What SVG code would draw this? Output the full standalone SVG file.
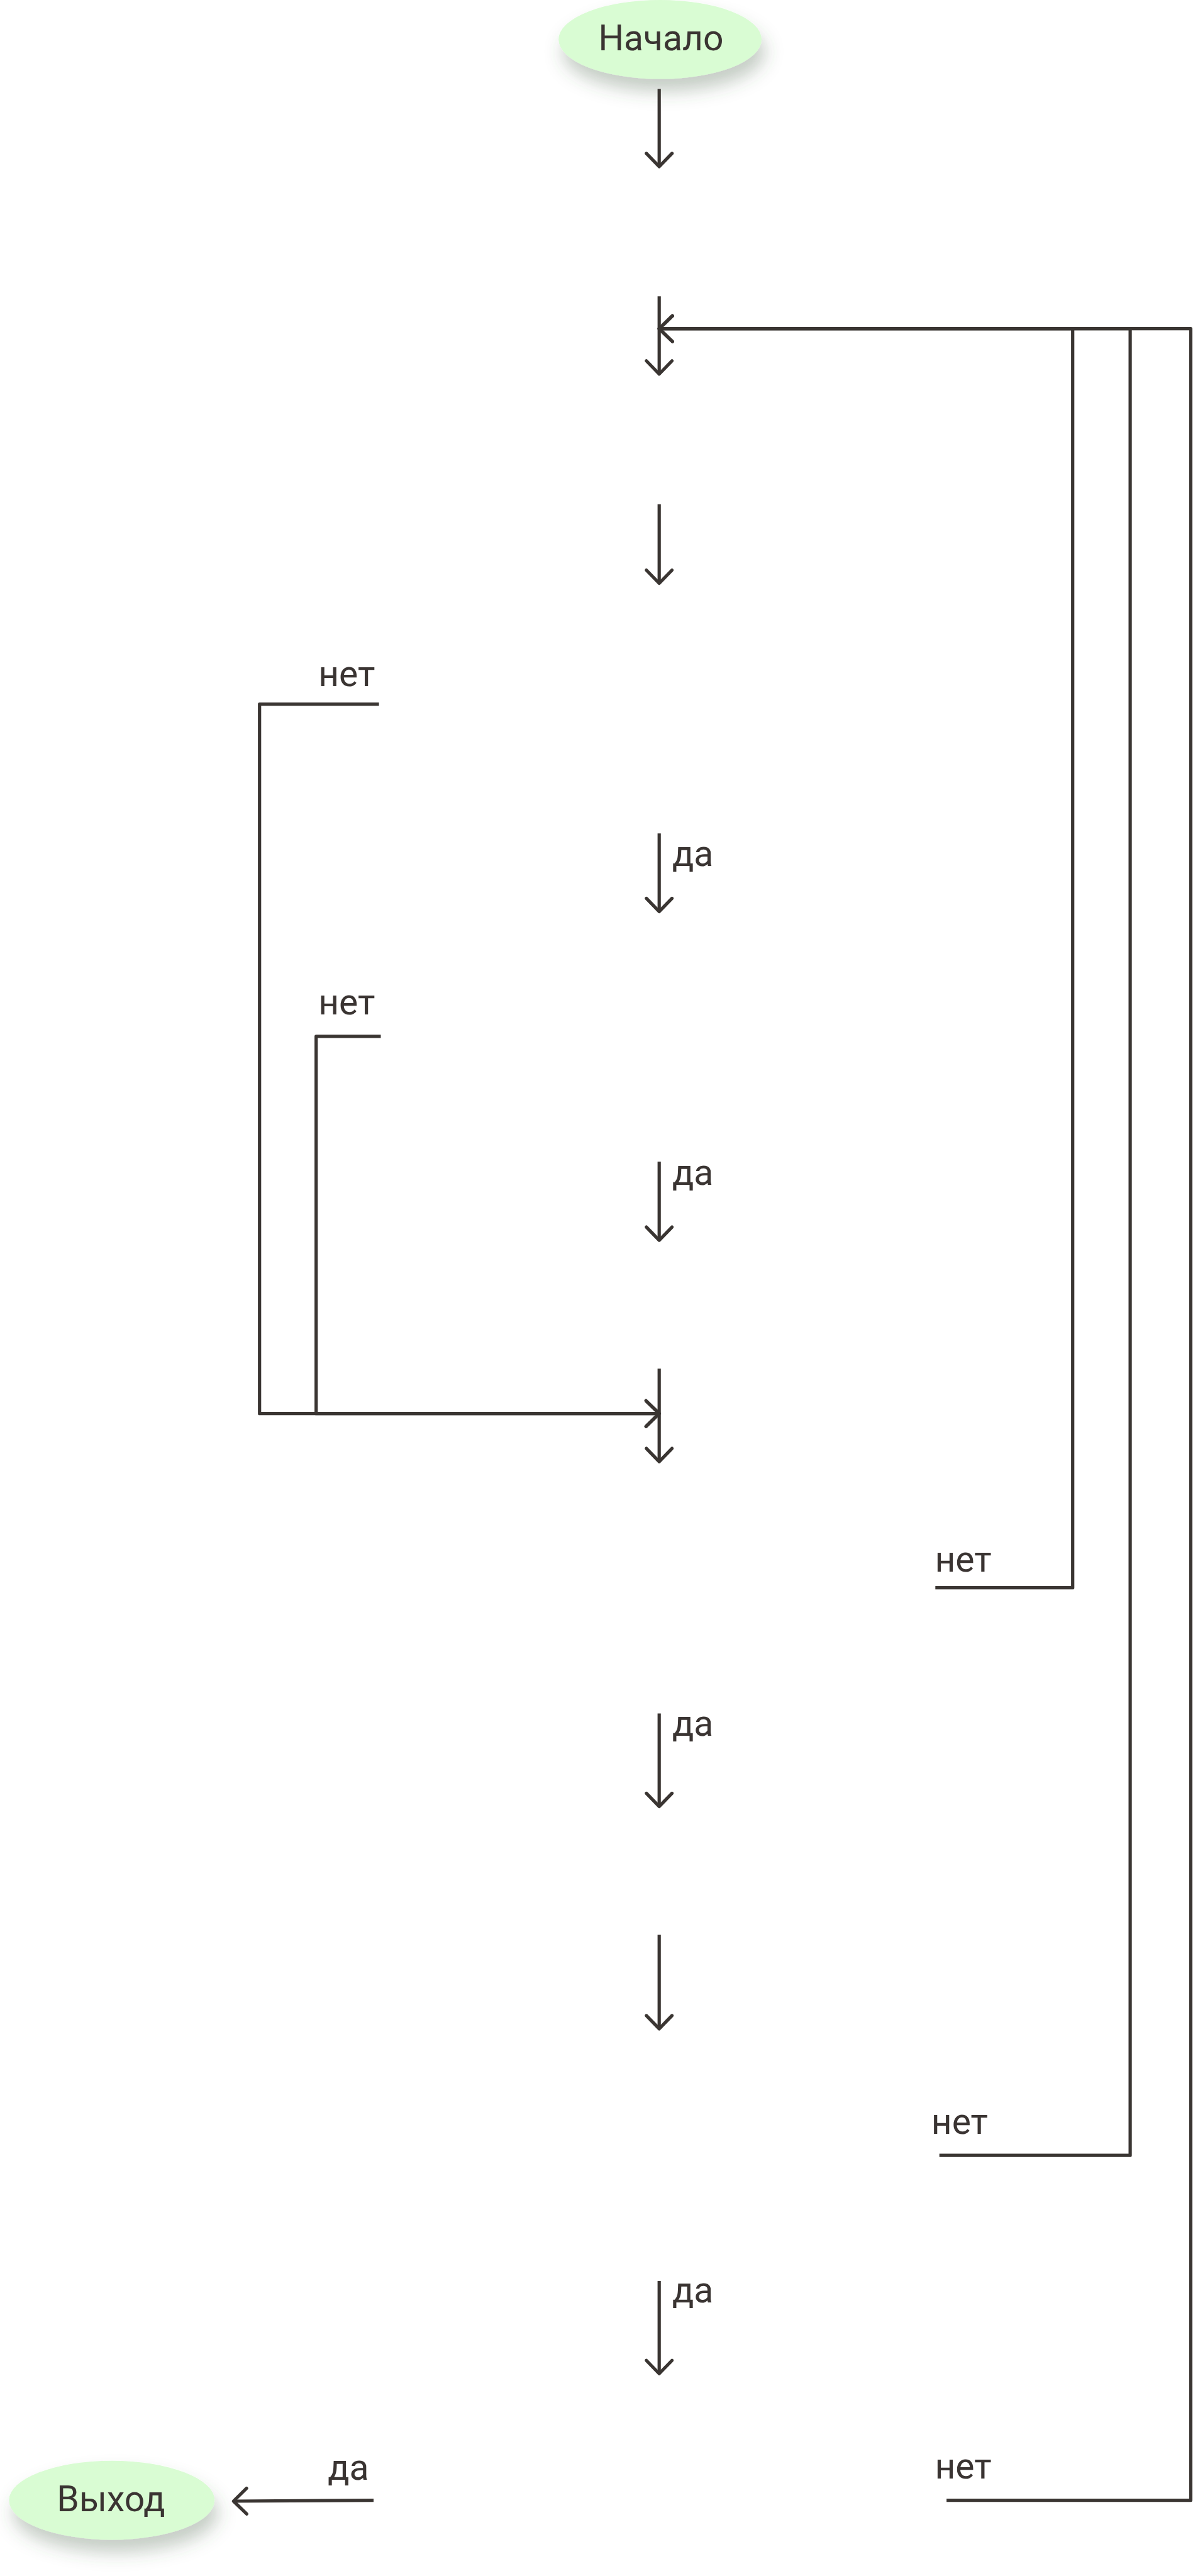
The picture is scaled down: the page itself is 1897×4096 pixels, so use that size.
<svg xmlns="http://www.w3.org/2000/svg" width="1897" height="4096" viewBox="0 0 1897 4096">
<style>
.term{fill:#d9fcd3;filter:url(#sh)}
.t{font-family:Roboto,"Liberation Sans",sans-serif;font-size:57px;fill:#3a3432}
.c{fill:none;stroke:#3a3532;stroke-width:5.2;stroke-linejoin:round}
.a{marker-end:url(#ah)}
</style>
<defs>
<filter id="sh" x="-30%" y="-40%" width="160%" height="200%">
<feDropShadow dx="6" dy="20" stdDeviation="14" flood-color="#3c5a3c" flood-opacity="0.3"/>
</filter>
<marker id="ah" markerUnits="userSpaceOnUse" viewBox="-26 -24 30 48" refX="0" refY="0" markerWidth="30" markerHeight="48" orient="auto" overflow="visible">
<path d="M-21,-20.4 L0,0 L-21,20.4" fill="none" stroke="#3a3532" stroke-width="5.2" stroke-linecap="round" stroke-linejoin="round"/>
</marker>
</defs>
<rect width="1897" height="4096" fill="#ffffff"/>
<g id="start">
<ellipse class="term" cx="1049.6" cy="62.8" rx="161.4" ry="62.8"/>
<text class="t" x="1051" y="80" text-anchor="middle">Начало</text>
</g>
<g id="exit">
<ellipse class="term" cx="177.8" cy="3975.6" rx="163.5" ry="62.8"/>
<text class="t" x="176.4" y="3993.4" text-anchor="middle">Выход</text>
</g>
<g id="connectors">
<path class="c a" d="M1048.2,141.4 V264.9"/>
<path class="c a" d="M1048.2,471.2 V594.8"/>
<path class="c a" d="M1048.2,801.8 V927.5"/>
<path class="c a" d="M1048.2,1325.2 V1449.4"/>
<path class="c a" d="M1048.2,1847.1 V1972.1"/>
<path class="c a" d="M1048.2,2176.3 V2324.1"/>
<path class="c a" d="M1048.2,2724.6 V2872.4"/>
<path class="c a" d="M1048.2,3076.6 V3225.9"/>
<path class="c a" d="M1048.2,3627.1 V3774.2"/>
<path class="c a" d="M602.6,1119.6 H412.7 V2247.7 H1048.2"/>
<path class="c a" d="M605.5,1647.9 H502.7 V2247.7 H1048.2"/>
<path class="c a" d="M1487.3,2524.7 H1705.7 V522.6 H1048.2"/>
<path class="c a" d="M1493.7,3427.2 H1797.1 V522.6 H1048.2"/>
<path class="c a" d="M1505.1,3975.6 H1893.5 V522.6 H1048.2"/>
<path class="c a" d="M594,3975.6 L371.3,3977"/>
<text class="t" x="506.2" y="1091">нет</text>
<text class="t" x="506.2" y="1613">нет</text>
<text class="t" x="1486.5" y="2499">нет</text>
<text class="t" x="1480.8" y="3393">нет</text>
<text class="t" x="1486.5" y="3941">нет</text>
<text class="t" x="1068.9" y="1376.6">да</text>
<text class="t" x="1068.9" y="1884">да</text>
<text class="t" x="1068.9" y="2759.6">да</text>
<text class="t" x="1068.9" y="3661.4">да</text>
<text class="t" x="521.2" y="3942.7">да</text>
</g>
</svg>
